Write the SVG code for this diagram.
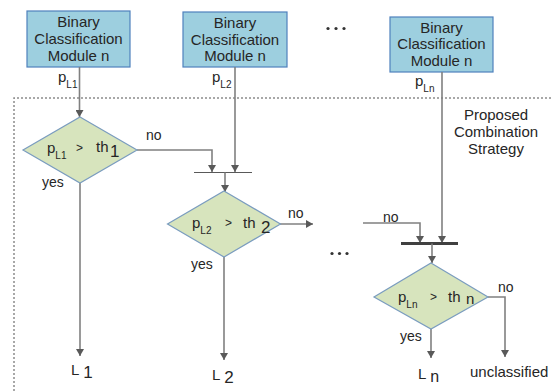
<svg xmlns="http://www.w3.org/2000/svg" width="553" height="391" viewBox="0 0 553 391">
  <defs>
    <marker id="arr" viewBox="0 0 8 8" refX="7" refY="4" markerWidth="8" markerHeight="8" markerUnits="userSpaceOnUse" orient="auto">
      <path d="M0,0 L7,4 L0,8 z" fill="#595959"/>
    </marker>
    <style>
      text { font-family: "Liberation Sans", Arial, sans-serif; fill: #262626; }
      .box { fill: #9dcfdf; stroke: #4f81bd; stroke-width: 1.2; }
      .dia { fill: #d7e4bd; stroke: #7a9cbf; stroke-width: 1.2; }
      .lbl { font-size: 15px; text-anchor: middle; }
      .small { font-size: 14px; }
      .sub { font-size: 10px; }
      .con { fill: none; stroke: #808080; stroke-width: 1.6; }
      .arrow { marker-end: url(#arr); }
      .frame { fill: none; stroke: #8c8c8c; stroke-width: 1.5; stroke-dasharray: 2 2; }
    </style>
  </defs>

  <rect width="553" height="391" fill="#ffffff"/>

  <!-- combination strategy frame -->
  <path class="frame" d="M14,391 V98 H553"/>
  <text class="lbl" x="496" y="120">Proposed</text>
  <text class="lbl" x="496" y="137">Combination</text>
  <text class="lbl" x="496" y="154">Strategy</text>

  <!-- classifier modules -->
  <g id="module1">
    <rect class="box" x="27" y="11" width="103" height="56"/>
    <text class="lbl" x="78.5" y="27">Binary</text>
    <text class="lbl" x="78.5" y="44">Classification</text>
    <text class="lbl" x="78.5" y="61">Module n</text>
    <text x="58" y="82" font-size="15">p<tspan class="sub" dy="6">L1</tspan></text>
  </g>
  <g id="module2">
    <rect class="box" x="183" y="12" width="104" height="55"/>
    <text class="lbl" x="235" y="28">Binary</text>
    <text class="lbl" x="235" y="45">Classification</text>
    <text class="lbl" x="235" y="61">Module n</text>
    <text x="212" y="82" font-size="15">p<tspan class="sub" dy="6">L2</tspan></text>
  </g>
  <g id="moduleN">
    <rect class="box" x="390" y="17" width="103" height="55"/>
    <text class="lbl" x="441.5" y="33">Binary</text>
    <text class="lbl" x="441.5" y="49">Classification</text>
    <text class="lbl" x="441.5" y="66">Module n</text>
    <text x="415" y="86" font-size="15">p<tspan class="sub" dy="6">Ln</tspan></text>
  </g>

  <!-- ellipses -->
  <g fill="#333333">
    <circle cx="328" cy="28.5" r="1.6"/><circle cx="336" cy="28.5" r="1.6"/><circle cx="344" cy="28.5" r="1.6"/>
    <circle cx="332" cy="253.5" r="1.6"/><circle cx="339.5" cy="253.5" r="1.6"/><circle cx="347" cy="253.5" r="1.6"/>
  </g>

  <!-- connectors -->
  <g id="connectors">
    <path class="con arrow" d="M79.5,67 V117"/>
    <path class="con arrow" d="M137,150 H212 V172"/>
    <path class="con arrow" d="M235,67 V172"/>
    <path d="M194,172.5 H252" stroke="#595959" stroke-width="1.2"/>
    <path class="con arrow" d="M225,172.5 V192"/>
    <path class="con arrow" d="M80,183 V356"/>
    <path class="con arrow" d="M224,257 V360"/>
    <path class="con arrow" d="M280,224 H313"/>
    <path class="con arrow" d="M363,223 H420 V243"/>
    <path class="con arrow" d="M442,72 V243"/>
    <path d="M401,243.5 H458" stroke="#404040" stroke-width="3"/>
    <path class="con arrow" d="M432,243.5 V263"/>
    <path class="con arrow" d="M431,329 V358"/>
    <path class="con arrow" d="M488,297 H505 V357"/>
  </g>

  <!-- decisions -->
  <g id="decision1">
    <polygon class="dia" points="80,117 137,150 80,183 23,150"/>
    <text x="47" y="153" font-size="15">p<tspan class="sub" dy="6">L1</tspan></text>
    <text x="76" y="152" font-size="12">&gt;</text>
    <text x="96" y="152" font-size="15">th</text>
    <text x="110" y="157" font-size="17">1</text>
    <text class="small" x="146" y="140">no</text>
    <text class="small" x="42" y="187">yes</text>
  </g>
  <g id="decision2">
    <polygon class="dia" points="224,191 280.5,224 224,257 167.5,224"/>
    <text x="192" y="228" font-size="15">p<tspan class="sub" dy="6">L2</tspan></text>
    <text x="225" y="227" font-size="12">&gt;</text>
    <text x="243" y="228" font-size="15">th</text>
    <text x="261" y="233" font-size="17">2</text>
    <text class="small" x="288" y="218">no</text>
    <text class="small" x="191" y="269">yes</text>
  </g>
  <g id="decisionN">
    <polygon class="dia" points="431,263 488,297 431,329 374,297"/>
    <text x="398" y="302" font-size="15">p<tspan class="sub" dy="6">Ln</tspan></text>
    <text x="430" y="301" font-size="12">&gt;</text>
    <text x="448" y="302" font-size="15">th</text>
    <text x="466" y="304" font-size="15">n</text>
    <text class="small" x="383" y="222">no</text>
    <text class="small" x="498" y="292">no</text>
    <text class="small" x="400" y="341">yes</text>
  </g>

  <!-- outcomes -->
  <g id="outcome1"><text x="71" y="375" font-size="15">L<tspan font-size="17" dx="4" dy="3">1</tspan></text></g>
  <g id="outcome2"><text x="212" y="380" font-size="15">L<tspan font-size="17" dx="4" dy="3">2</tspan></text></g>
  <g id="outcomeN"><text x="418" y="379" font-size="15">L<tspan font-size="16" dx="4" dy="3">n</tspan></text></g>
  <g id="unclassified"><text x="470" y="377" font-size="15">unclassified</text></g>
</svg>
